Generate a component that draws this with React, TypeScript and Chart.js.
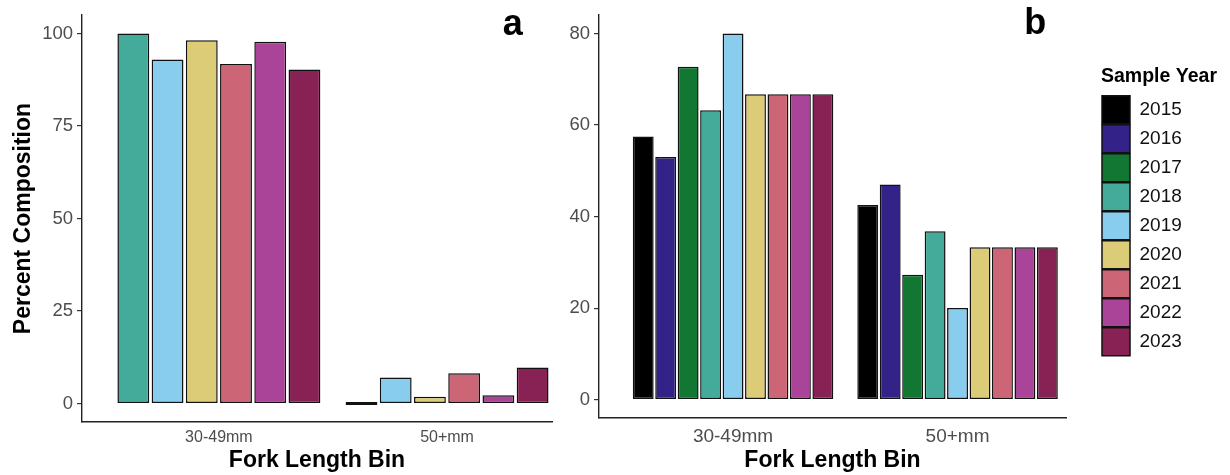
import React, { useEffect, useRef } from 'react';
import { Chart, registerables } from 'chart.js';

Chart.register(...registerables);

const FONT = "'Liberation Sans', Arial, Helvetica, sans-serif";

const categories = ['30-49mm', '50+mm'];
const years = ['2015', '2016', '2017', '2018', '2019', '2020', '2021', '2022', '2023'];
const yearColors = ['#000000', '#332288', '#117733', '#44AA99', '#88CCEE', '#DDCC77', '#CC6677', '#AA4499', '#882255'];

// Panel a (percent composition, 2018-2023)
const yearsA = ['2018', '2019', '2020', '2021', '2022', '2023'];
const a30to49 = [100, 93.0, 98.2, 91.8, 97.8, 90.3];
const a50plus = [0, 7.0, 1.8, 8.2, 2.2, 9.7];
const ticksA = [0, 25, 50, 75, 100];

// Panel b (2015-2023)
const yearsB = years;
const b30to49 = [57.5, 53.0, 72.7, 63.2, 80.0, 66.7, 66.7, 66.7, 66.7];
const b50plus = [42.5, 47.0, 27.3, 36.8, 20.0, 33.3, 33.3, 33.3, 33.3];
const ticksB = [0, 20, 40, 60, 80];

const LEGEND_WIDTH = 129;

function makeDatasets(yrs: string[], v30: number[], v50: number[]) {
  return yrs.map((yr, i) => {
    const color = yearColors[years.indexOf(yr)];
    const vals = [v30[i], v50[i]];
    return {
      label: yr,
      data: categories.map((_, ci) => ({ x: ci + 1, y: vals[ci] })),
      backgroundColor: color,
      borderColor: '#111111',
      borderWidth: 1.5,
      borderSkipped: false,
      minBarLength: 3,
      barPercentage: 0.93,
      categoryPercentage: 0.9,
    };
  });
}

function xScale(min: number, max: number, height: number, tickSize: number, tickPad: number) {
  return {
    type: 'linear' as const,
    min,
    max,
    offset: false,
    afterBuildTicks: (s: any) => {
      s.ticks = categories.map((_, i) => ({ value: i + 1 }));
    },
    afterFit: (s: any) => {
      s.height = height;
    },
    grid: { display: true, offset: false, drawOnChartArea: false, drawTicks: true, tickLength: 5, color: 'rgba(0,0,0,0)' },
    border: { display: true, color: '#222', width: 1.4 },
    ticks: {
      color: '#4D4D4D',
      font: { family: FONT, size: tickSize },
      padding: tickPad,
      maxRotation: 0,
      autoSkip: false,
      callback: (v: any) => categories[Math.round(Number(v)) - 1] ?? '',
    },
    title: {
      display: true,
      text: 'Fork Length Bin',
      color: '#000',
      font: { family: FONT, size: 23, weight: 'bold' as const },
      padding: { top: 0, bottom: 1 },
    },
  };
}

function yScale(min: number, max: number, ticks: number[], width: number, withTitle: boolean) {
  return {
    type: 'linear' as const,
    min,
    max,
    afterBuildTicks: (s: any) => {
      s.ticks = ticks.map((v) => ({ value: v }));
    },
    afterFit: (s: any) => {
      s.width = width;
    },
    grid: { display: true, drawOnChartArea: false, drawTicks: true, tickLength: 5, color: '#333', lineWidth: 1.2 },
    border: { display: true, color: '#222', width: 1.4 },
    ticks: { color: '#4D4D4D', font: { family: FONT, size: 18.5 }, padding: 4 },
    title: {
      display: withTitle,
      text: 'Percent Composition',
      color: '#000',
      font: { family: FONT, size: 23, weight: 'bold' as const },
      padding: { top: 9.5, bottom: 0 },
    },
  };
}

// Fixes the legend box width so its title is not clipped.
const legendWidthPlugin = {
  id: 'legendWidth',
  beforeLayout(chart: any) {
    const lg = chart.legend;
    if (lg && !lg.__fixedWidth) {
      const orig = lg.fit.bind(lg);
      lg.fit = function () {
        orig();
        this.width = LEGEND_WIDTH;
      };
      lg.__fixedWidth = true;
    }
  },
};

export default function App() {
  const refA = useRef<HTMLCanvasElement>(null);
  const refB = useRef<HTMLCanvasElement>(null);

  useEffect(() => {
    document.body.style.margin = '0';
    const chartA = new Chart(refA.current as HTMLCanvasElement, {
      type: 'bar',
      data: { datasets: makeDatasets(yearsA, a30to49, a50plus) as any },
      options: {
        animation: false,
        responsive: false,
        devicePixelRatio: 1,
        layout: { padding: { left: 0, right: 4, top: 6, bottom: 0 } },
        plugins: { legend: { display: false }, tooltip: { enabled: false } },
        scales: {
          x: xScale(0.4, 2.46, 53, 16, 1) as any,
          y: yScale(-5, 105, ticksA, 82, true) as any,
        },
      },
    });
    const chartB = new Chart(refB.current as HTMLCanvasElement, {
      type: 'bar',
      data: { datasets: makeDatasets(yearsB, b30to49, b50plus) as any },
      plugins: [legendWidthPlugin],
      options: {
        animation: false,
        responsive: false,
        devicePixelRatio: 1,
        layout: { padding: { left: 0, right: 0, top: 6, bottom: 0 } },
        plugins: {
          tooltip: { enabled: false },
          legend: {
            display: true,
            position: 'right',
            align: 'start',
            title: {
              display: true,
              text: 'Sample Year',
              position: 'start',
              color: '#000',
              font: { family: FONT, size: 19.5, weight: 'bold' },
              padding: { top: 61.25, bottom: 4.05 },
            },
            labels: {
              boxWidth: 28,
              boxHeight: 28,
              padding: 1,
              color: '#111',
              font: { family: FONT, size: 19 },
            },
          },
        },
        scales: {
          x: xScale(0.403, 2.483, 57, 19, 2.5) as any,
          y: yScale(-4, 84, ticksB, 59, false) as any,
          spacer: {
            type: 'linear',
            position: 'right',
            display: true,
            grid: { display: false },
            border: { display: false },
            ticks: { display: false },
            afterFit: (s: any) => {
              s.width = 35;
            },
          } as any,
        },
      },
    });
    return () => {
      chartA.destroy();
      chartB.destroy();
    };
  }, []);

  const panelLabel: React.CSSProperties = {
    position: 'absolute',
    fontFamily: FONT,
    fontWeight: 'bold',
    fontSize: 36,
    lineHeight: '36px',
    color: '#000',
  };

  return (
    <div style={{ position: 'absolute', left: 0, top: 0, width: 1230, height: 475, background: '#fff', overflow: 'hidden' }}>
      <canvas ref={refA} width={556} height={475} style={{ position: 'absolute', left: 0, top: 0, width: 556, height: 475 }} />
      <canvas ref={refB} width={690} height={475} style={{ position: 'absolute', left: 540, top: 0, width: 690, height: 475 }} />
      <div style={{ ...panelLabel, left: 502.7, top: 4.5 }}>a</div>
      <div style={{ ...panelLabel, left: 1024.3, top: 3.8 }}>b</div>
    </div>
  );
}
